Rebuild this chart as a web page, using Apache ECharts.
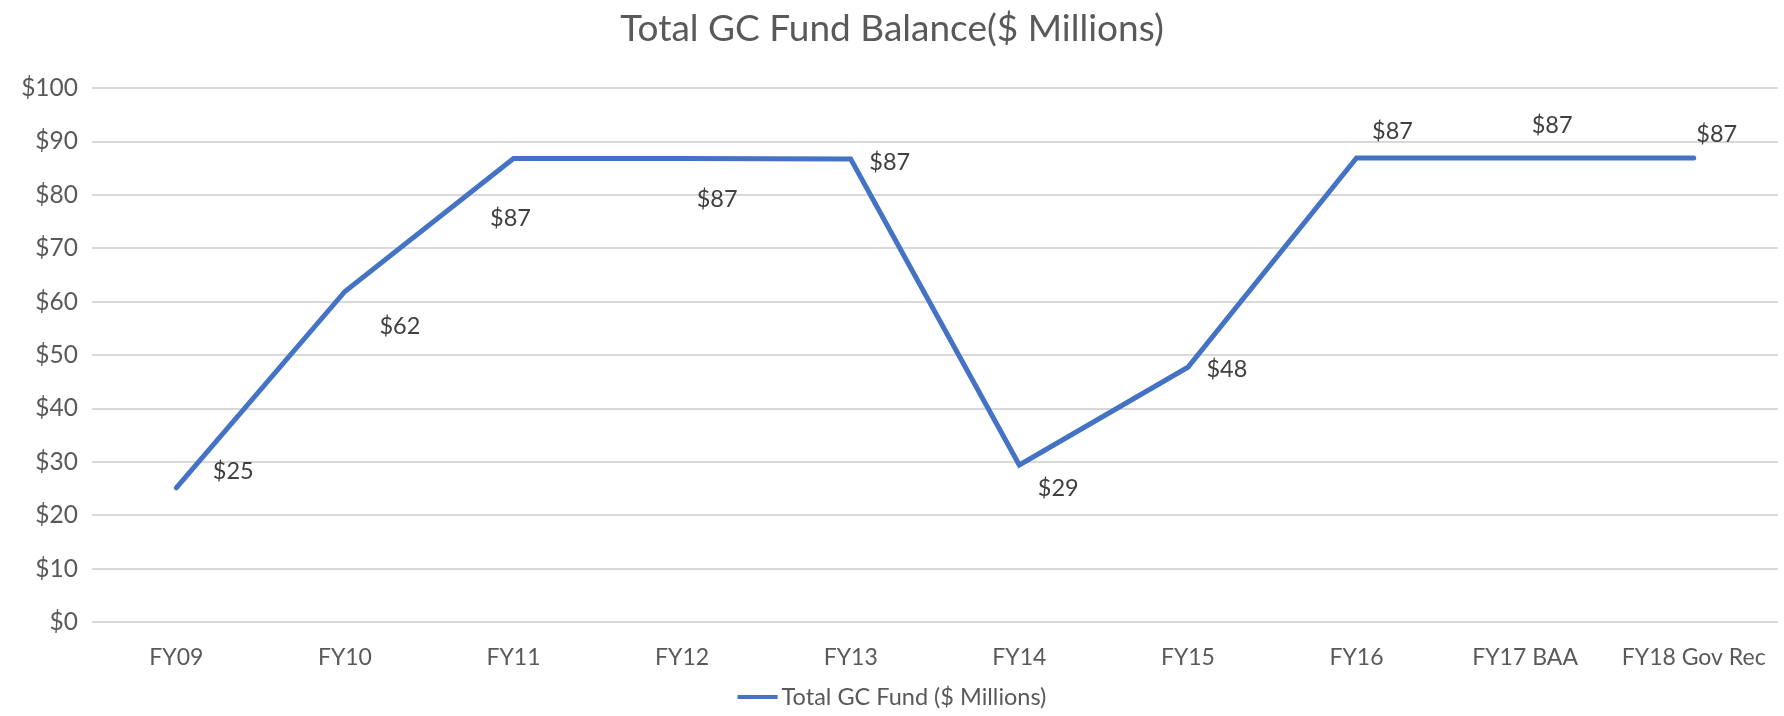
<!DOCTYPE html>
<html>
<head>
<meta charset="utf-8">
<script src="https://cdn.jsdelivr.net/npm/echarts@6/dist/echarts.min.js"></script>
<style>
  html, body { margin: 0; padding: 0; background: #fff; }
  #chart { width: 1784px; height: 716px; }
</style>
</head>
<body>
<div id="chart"></div>
<script>
const categories = ['FY09', 'FY10', 'FY11', 'FY12', 'FY13', 'FY14', 'FY15', 'FY16', 'FY17 BAA', 'FY18 Gov Rec'];
const fundBalance = [25.1, 61.9, 86.8, 86.8, 86.7, 29.4, 47.7, 86.9, 86.9, 86.9];
// label offsets per point, as placed in the original
const labelOffsets = [[57, -17], [55, 35], [-3, 60], [35, 41], [39, 3], [39, 23], [39, 2], [36, -27], [27, -33], [23, -24]];

const font = 'Lato, "Open Sans", sans-serif';

const chart = echarts.init(document.getElementById('chart'));
chart.setOption({
  animation: false,
  title: {
    text: 'Total GC Fund Balance($ Millions)',
    left: 'center',
    top: 6,
    textStyle: { fontFamily: font, fontSize: 37, fontWeight: 'normal', color: '#595959' }
  },
  legend: {
    bottom: 2,
    left: 'center',
    icon: 'path://M0,0 L10,0 L10,1 L0,1 Z',
    itemWidth: 46,
    itemHeight: 4,
    itemGap: 0,
    textStyle: { fontFamily: font, fontSize: 23.5, color: '#595959', padding: [0, 0, 0, -4] },
    data: ['Total GC Fund ($ Millions)']
  },
  grid: { left: 92, right: 6, top: 88, bottom: 94 },
  xAxis: {
    type: 'category',
    data: categories,
    axisLine: { show: false },
    axisTick: { show: false },
    axisLabel: { interval: 0, fontFamily: font, fontSize: 23, color: '#595959', margin: 24 }
  },
  yAxis: {
    type: 'value',
    min: 0,
    max: 100,
    interval: 10,
    axisLine: { show: false },
    axisTick: { show: false },
    splitLine: { lineStyle: { color: '#d9d9d9', width: 2 } },
    axisLabel: {
      fontFamily: font, fontSize: 24.5, color: '#595959', margin: 14,
      formatter: v => '$' + v
    }
  },
  series: [{
    name: 'Total GC Fund ($ Millions)',
    type: 'line',
    symbol: 'circle',
    symbolSize: 1,
    itemStyle: { color: '#4472C4' },
    lineStyle: { color: '#4472C4', width: 5, cap: 'round', join: 'miter' },
    data: fundBalance.map((v, i) => ({
      value: v,
      label: { offset: labelOffsets[i] }
    })),
    label: {
      show: true,
      position: 'inside',
      fontFamily: font,
      fontSize: 23.5,
      color: '#404040',
      formatter: p => '$' + Math.round(p.value)
    }
  }]
});
</script>
</body>
</html>
